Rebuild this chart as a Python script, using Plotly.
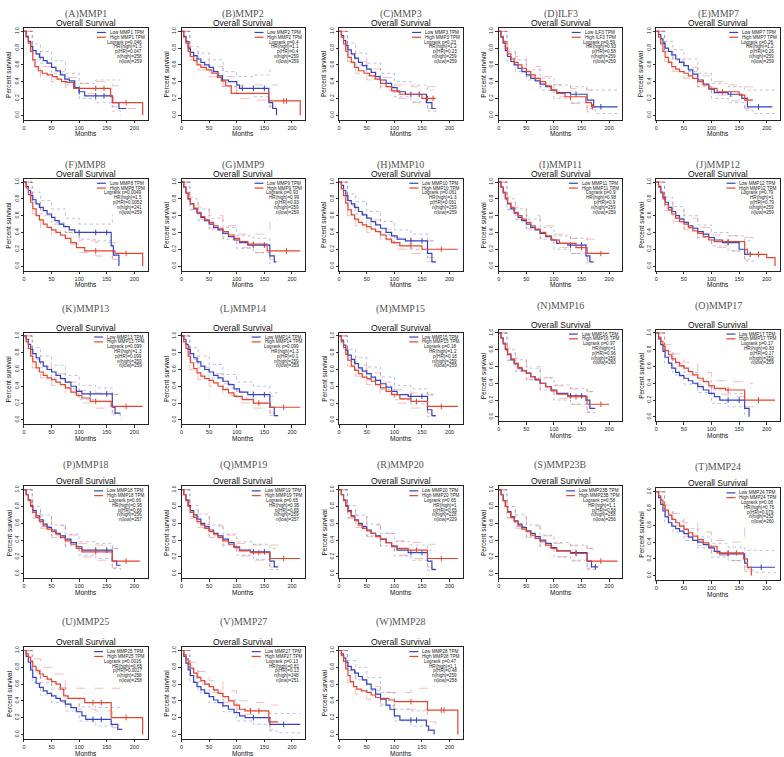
import plotly.graph_objects as go

W, H = 784, 757

LABELS = list("ABCDEFGHIJKLMNOPQRSTUVW")
GENES = ["MMP1", "MMP2", "MMP3", "ILF3", "MMP7", "MMP8", "MMP9", "MMP10", "MMP11", "MMP12",
         "MMP13", "MMP14", "MMP15", "MMP16", "MMP17", "MMP18", "MMP19", "MMP20", "MMP23B", "MMP24",
         "MMP25", "MMP27", "MMP28"]
LOGRANK_P = ["0.046", "0.4", "0.23", "0.59", "0.26", "0.0049", "0.93", "0.061", "0.9", "0.79",
             "0.099", "0.099", "0.18", "0.97", "0.17", "0.66", "0.65", "0.65", "0.58", "0.08",
             "0.0016", "0.13", "0.47"]
HR_HIGH = ["1.3", "1.1", "1.2", "0.93", "1.2", "1.5", "0.99", "1.3", "0.98", "1",
           "1.3", "1.3", "1.2", "1", "0.83", "0.95", "0.95", "1", "1.1", "0.76",
           "0.65", "0.81", "1.1"]
P_HR = ["0.047", "0.4", "0.23", "0.58", "0.26", "0.0052", "0.93", "0.061", "0.9", "0.79",
        "0.099", "0.1", "0.18", "0.96", "0.17", "0.66", "0.65", "0.65", "0.58", "0.079",
        "0.0017", "0.13", "0.48"]
N_HIGH = [258, 259, 259, 259, 259, 241, 259, 259, 259, 259, 259, 259, 259, 259, 259, 256, 259, 228,
          258, 252, 258, 248, 259]
N_LOW = [259, 259, 259, 259, 259, 259, 259, 259, 259, 259, 259, 259, 259, 260, 259, 257, 257, 229,
         256, 260, 258, 251, 258]

X_TICKS = [0, 50, 100, 150, 200]
Y_TICKS = [0, 0.2, 0.4, 0.6, 0.8, 1.0]
Y_TICKTEXT = ["0.0", "0.2", "0.4", "0.6", "0.8", "1.0"]

# time grid for the confidence-band lines (months)
TC = [0, 15, 30, 50, 75, 100, 130, 160, 175, 215]

# ---- survival curves: [months, survival] steps ----
A_lo = [[0,1],[4,.94],[8,.88],[12,.82],[16,.77],[22,.73],[28,.69],[35,.65],[42,.62],[50,.57],[58,.53],[66,.48],[74,.43],[82,.41],[92,.33],[100,.28],[110,.23],[160,.15],[172,.08],[185,.08]]
A_hi = [[0,1],[4,.93],[8,.86],[12,.76],[16,.66],[20,.58],[26,.53],[33,.5],[42,.48],[52,.46],[60,.43],[68,.4],[78,.39],[90,.32],[157,.22],[161,.15],[215,.15],[215,0]]
A_lo_up = [1,.85,.76,.65,.5,.38,.42,.42,.42,None]
A_lo_dn = [1,.73,.62,.5,.36,.2,.15,.05,0,None]
A_hi_up = [1,.78,.58,.52,.45,.38,.4,.35,.35,None]
A_hi_dn = [1,.66,.46,.4,.33,.26,.24,.1,.08,.05]

B_lo = [[0,1],[4,.94],[8,.88],[12,.8],[16,.75],[22,.71],[28,.67],[35,.63],[42,.6],[50,.57],[58,.52],[66,.47],[74,.42],[85,.4],[100,.36],[105,.32],[158,.15],[165,.08],[172,.08],[172,0]]
B_hi = [[0,1],[4,.93],[8,.86],[12,.76],[16,.7],[22,.65],[28,.6],[35,.57],[45,.54],[55,.5],[65,.45],[72,.41],[80,.35],[90,.26],[158,.17],[215,.17],[215,0]]
B_lo_up = [1,.82,.74,.66,.52,.46,.48,.55,None,None]
B_lo_dn = [1,.7,.6,.5,.34,.26,.22,.05,None,None]
B_hi_up = [1,.78,.66,.58,.46,.36,.36,.36,.36,None]
B_hi_dn = [1,.66,.54,.46,.34,.2,.18,.1,.05,None]

C_lo = [[0,1],[4,.95],[8,.89],[12,.83],[16,.78],[22,.73],[28,.68],[35,.63],[42,.59],[50,.55],[58,.51],[66,.46],[74,.42],[85,.38],[95,.33],[105,.28],[120,.25],[158,.15],[168,.08],[175,.08]]
C_hi = [[0,1],[4,.93],[8,.85],[12,.76],[16,.69],[22,.63],[28,.57],[35,.53],[45,.5],[55,.47],[65,.43],[75,.38],[85,.34],[95,.29],[110,.25],[150,.2],[175,.2]]
C_lo_up = [1,.86,.74,.62,.5,.4,.36,.3,.3,None]
C_lo_dn = [1,.72,.6,.48,.34,.22,.16,.05,0,None]
C_hi_up = [1,.76,.64,.55,.45,.36,.34,.34,.34,None]
C_hi_dn = [1,.64,.5,.42,.3,.2,.15,.08,.05,None]

D_lo = [[0,1],[4,.93],[8,.86],[12,.77],[16,.7],[22,.64],[28,.6],[35,.56],[42,.52],[50,.48],[58,.44],[66,.41],[75,.37],[85,.34],[95,.3],[105,.27],[130,.25],[160,.18],[172,.1],[215,.1]]
D_hi = [[0,1],[4,.94],[8,.88],[12,.8],[16,.73],[22,.67],[28,.63],[35,.6],[42,.56],[50,.52],[58,.48],[66,.44],[75,.4],[85,.35],[95,.3],[105,.26],[120,.22],[158,.15],[168,.1],[175,.1]]
D_lo_up = [1,.76,.66,.54,.44,.36,.34,.3,.3,.3]
D_lo_dn = [1,.64,.52,.42,.3,.2,.15,.08,.02,0]
D_hi_up = [1,.8,.7,.58,.46,.36,.32,.3,.3,None]
D_hi_dn = [1,.68,.56,.46,.34,.22,.14,.04,0,None]

E_lo = [[0,1],[4,.96],[8,.91],[12,.86],[16,.8],[22,.76],[28,.72],[35,.67],[42,.63],[50,.59],[58,.54],[66,.49],[75,.42],[85,.37],[95,.31],[105,.27],[130,.25],[155,.2],[165,.1],[210,.1]]
E_hi = [[0,1],[4,.93],[8,.85],[12,.76],[16,.69],[22,.63],[28,.58],[35,.55],[42,.52],[50,.5],[58,.47],[66,.44],[75,.4],[85,.36],[95,.32],[110,.28],[150,.24],[160,.18],[175,.18]]
E_lo_up = [1,.88,.78,.67,.5,.38,.34,.3,.3,.3]
E_lo_dn = [1,.76,.66,.52,.34,.2,.15,.06,.02,0]
E_hi_up = [1,.76,.64,.57,.47,.4,.36,.34,.34,None]
E_hi_dn = [1,.64,.52,.44,.34,.24,.17,.08,.05,None]

F_lo = [[0,1],[4,.95],[8,.9],[12,.84],[16,.79],[22,.74],[28,.7],[35,.66],[42,.62],[50,.58],[56,.54],[64,.5],[72,.47],[82,.43],[92,.4],[158,.24],[162,.13],[172,.13],[172,0]]
F_hi = [[0,1],[4,.93],[8,.85],[12,.76],[16,.68],[22,.6],[28,.55],[35,.5],[42,.46],[50,.43],[58,.4],[66,.37],[75,.33],[85,.28],[95,.22],[110,.18],[165,.15],[215,.15],[215,0]]
F_lo_up = [1,.88,.78,.68,.57,.5,.5,.62,None,None]
F_lo_dn = [1,.76,.62,.52,.4,.32,.3,.05,None,None]
F_hi_up = [1,.76,.6,.5,.4,.3,.28,.28,.28,None]
F_hi_dn = [1,.62,.46,.36,.26,.16,.12,.08,.05,None]

G_lo = [[0,1],[4,.94],[8,.87],[12,.8],[16,.74],[22,.68],[28,.63],[35,.58],[42,.54],[50,.5],[58,.46],[66,.43],[75,.39],[85,.35],[95,.31],[105,.28],[120,.25],[160,.12],[168,.05],[172,.05]]
G_hi = [[0,1],[4,.94],[8,.87],[12,.8],[16,.74],[22,.69],[28,.64],[35,.59],[42,.55],[50,.52],[58,.48],[66,.45],[75,.41],[85,.37],[95,.33],[105,.29],[120,.26],[155,.18],[215,.18]]
G_lo_up = [1,.8,.68,.57,.46,.36,.33,.25,None,None]
G_lo_dn = [1,.67,.54,.43,.32,.21,.16,.02,None,None]
G_hi_up = [1,.82,.7,.6,.48,.38,.38,.55,.55,None]
G_hi_dn = [1,.68,.56,.45,.33,.22,.16,.08,.06,None]

H_lo = [[0,1],[4,.96],[8,.9],[12,.84],[16,.78],[22,.74],[28,.7],[35,.65],[42,.61],[50,.57],[58,.53],[66,.49],[75,.45],[85,.4],[95,.36],[105,.32],[120,.3],[160,.15],[168,.05],[175,.05]]
H_hi = [[0,1],[4,.92],[8,.84],[12,.75],[16,.67],[22,.61],[28,.56],[35,.52],[42,.49],[50,.47],[58,.44],[66,.41],[75,.37],[85,.32],[95,.28],[110,.24],[150,.2],[215,.2]]
H_lo_up = [1,.86,.77,.65,.53,.43,.38,.3,.3,None]
H_lo_dn = [1,.72,.62,.5,.37,.25,.2,.05,0,None]
H_hi_up = [1,.74,.62,.55,.44,.34,.3,.3,.3,None]
H_hi_dn = [1,.6,.48,.4,.3,.2,.15,.1,.05,None]

I_lo = [[0,1],[4,.94],[8,.87],[12,.8],[16,.74],[22,.68],[28,.63],[35,.58],[42,.54],[50,.5],[58,.46],[66,.43],[75,.39],[85,.35],[95,.31],[105,.27],[125,.25],[158,.12],[165,.05],[172,.05]]
I_hi = [[0,1],[4,.94],[8,.88],[12,.81],[16,.75],[22,.7],[28,.64],[35,.6],[42,.56],[50,.52],[58,.48],[66,.44],[75,.4],[85,.36],[95,.31],[110,.27],[140,.22],[160,.15],[200,.15]]
I_lo_up = [1,.8,.68,.56,.46,.36,.33,.25,None,None]
I_lo_dn = [1,.67,.55,.43,.32,.2,.15,.02,None,None]
I_hi_up = [1,.82,.7,.6,.48,.38,.33,.32,.32,None]
I_hi_dn = [1,.68,.56,.45,.33,.22,.15,.06,.04,None]

J_lo = [[0,1],[4,.95],[8,.88],[12,.82],[16,.76],[22,.7],[28,.65],[35,.6],[42,.56],[50,.52],[58,.48],[66,.45],[75,.41],[85,.38],[95,.34],[105,.31],[120,.28],[150,.2],[160,.14],[175,.14]]
J_hi = [[0,1],[4,.94],[8,.87],[12,.8],[16,.73],[22,.67],[28,.62],[35,.57],[42,.53],[50,.5],[58,.46],[66,.42],[75,.39],[85,.35],[95,.31],[105,.29],[160,.2],[165,.14],[200,.1],[215,.1],[215,0]]
J_lo_up = [1,.82,.71,.6,.49,.4,.36,.3,.3,None]
J_lo_dn = [1,.69,.57,.45,.34,.24,.18,.06,.05,None]
J_hi_up = [1,.8,.67,.57,.46,.37,.36,.34,.3,None]
J_hi_dn = [1,.66,.53,.43,.32,.22,.18,.08,.04,None]

K_lo = [[0,1],[4,.96],[8,.9],[12,.84],[16,.79],[22,.74],[28,.69],[35,.64],[42,.6],[50,.57],[58,.53],[66,.49],[75,.45],[85,.4],[95,.34],[105,.31],[160,.15],[165,.08],[175,.08]]
K_hi = [[0,1],[4,.93],[8,.85],[12,.76],[16,.69],[22,.62],[28,.57],[35,.53],[42,.5],[50,.48],[58,.45],[66,.42],[75,.38],[85,.33],[95,.29],[105,.26],[120,.22],[158,.16],[215,.16]]
K_lo_up = [1,.86,.76,.65,.53,.41,.38,.3,.3,None]
K_lo_dn = [1,.72,.62,.5,.37,.24,.22,.06,0,None]
K_hi_up = [1,.76,.64,.55,.45,.35,.32,.3,.3,None]
K_hi_dn = [1,.62,.5,.41,.31,.2,.14,.08,.05,None]

L_lo = [[0,1],[4,.96],[8,.9],[12,.84],[16,.79],[22,.74],[28,.69],[35,.64],[42,.6],[50,.57],[58,.53],[66,.5],[75,.46],[85,.42],[95,.37],[105,.33],[120,.3],[160,.15],[168,.05],[175,.05]]
L_hi = [[0,1],[4,.93],[8,.85],[12,.76],[16,.68],[22,.61],[28,.56],[35,.52],[42,.49],[50,.47],[58,.44],[66,.4],[75,.36],[85,.32],[95,.28],[110,.24],[130,.2],[160,.15],[215,.15]]
L_lo_up = [1,.86,.76,.66,.54,.45,.4,.32,.3,None]
L_lo_dn = [1,.72,.62,.5,.38,.26,.2,.05,0,None]
L_hi_up = [1,.76,.63,.55,.43,.34,.3,.28,.28,None]
L_hi_dn = [1,.6,.48,.4,.29,.2,.14,.08,.05,None]

M_lo = [[0,1],[4,.95],[8,.89],[12,.83],[16,.77],[22,.72],[28,.67],[35,.62],[42,.58],[50,.55],[58,.51],[66,.47],[75,.43],[85,.39],[95,.34],[105,.3],[125,.28],[160,.12],[168,.05],[175,.05]]
M_hi = [[0,1],[4,.93],[8,.86],[12,.78],[16,.71],[22,.64],[28,.59],[35,.55],[42,.51],[50,.49],[58,.46],[66,.42],[75,.38],[85,.34],[95,.3],[110,.25],[130,.22],[160,.16],[215,.16]]
M_lo_up = [1,.84,.74,.63,.51,.41,.37,.3,.3,None]
M_lo_dn = [1,.7,.6,.48,.36,.24,.19,.04,0,None]
M_hi_up = [1,.78,.65,.56,.45,.36,.32,.3,.3,None]
M_hi_dn = [1,.64,.52,.42,.31,.2,.14,.08,.05,None]

N_lo = [[0,1],[4,.94],[8,.87],[12,.8],[16,.74],[22,.68],[28,.63],[35,.58],[42,.55],[50,.52],[58,.48],[66,.44],[75,.4],[85,.36],[95,.32],[105,.28],[125,.25],[158,.2],[165,.1],[175,.1]]
N_hi = [[0,1],[4,.94],[8,.88],[12,.81],[16,.75],[22,.69],[28,.64],[35,.59],[42,.55],[50,.52],[58,.48],[66,.45],[75,.4],[85,.36],[95,.31],[105,.27],[125,.24],[160,.15],[200,.15]]
N_lo_up = [1,.8,.68,.58,.46,.38,.34,.3,.3,None]
N_lo_dn = [1,.67,.54,.44,.32,.2,.15,.05,0,None]
N_hi_up = [1,.82,.7,.6,.47,.37,.33,.3,.3,None]
N_hi_dn = [1,.68,.56,.45,.33,.22,.15,.06,.04,None]

O_lo = [[0,1],[4,.93],[8,.86],[12,.78],[16,.71],[22,.64],[28,.58],[35,.53],[42,.49],[50,.46],[58,.43],[66,.4],[75,.36],[85,.32],[95,.28],[105,.24],[115,.2],[160,.1],[168,.1],[168,0]]
O_hi = [[0,1],[4,.95],[8,.9],[12,.84],[16,.79],[22,.74],[28,.69],[35,.65],[42,.61],[50,.58],[58,.54],[66,.5],[75,.46],[85,.42],[95,.37],[105,.34],[125,.32],[160,.2],[215,.2]]
O_lo_up = [1,.78,.64,.53,.43,.32,.28,.22,None,None]
O_lo_dn = [1,.64,.5,.39,.29,.16,.12,.02,None,None]
O_hi_up = [1,.86,.75,.65,.53,.43,.42,.4,.4,None]
O_hi_dn = [1,.72,.6,.5,.38,.27,.24,.12,.08,None]

P_lo = [[0,1],[4,.94],[8,.88],[12,.81],[16,.75],[22,.69],[28,.64],[35,.59],[42,.55],[50,.52],[58,.48],[66,.45],[75,.41],[85,.37],[95,.32],[105,.28],[160,.15],[168,.1],[175,.1]]
P_hi = [[0,1],[4,.94],[8,.87],[12,.8],[16,.73],[22,.67],[28,.62],[35,.57],[42,.53],[50,.5],[58,.47],[66,.43],[75,.39],[85,.35],[95,.3],[105,.26],[160,.15],[210,.15]]
P_lo_up = [1,.8,.7,.58,.47,.38,.36,.3,.3,None]
P_lo_dn = [1,.68,.56,.45,.33,.22,.18,.06,.02,None]
P_hi_up = [1,.8,.68,.57,.46,.36,.34,.3,.3,None]
P_hi_dn = [1,.66,.54,.43,.32,.2,.16,.07,.04,None]

Q_lo = [[0,1],[4,.94],[8,.88],[12,.81],[16,.75],[22,.7],[28,.65],[35,.6],[42,.56],[50,.52],[58,.48],[66,.45],[75,.41],[85,.37],[95,.32],[105,.28],[125,.26],[160,.15],[168,.08],[175,.08]]
Q_hi = [[0,1],[4,.94],[8,.87],[12,.8],[16,.73],[22,.67],[28,.62],[35,.58],[42,.54],[50,.5],[58,.47],[66,.43],[75,.39],[85,.35],[95,.31],[105,.27],[125,.25],[160,.18],[215,.18]]
Q_lo_up = [1,.81,.71,.58,.47,.38,.35,.3,.3,None]
Q_lo_dn = [1,.68,.58,.45,.34,.22,.17,.05,0,None]
Q_hi_up = [1,.8,.68,.57,.46,.36,.34,.34,.34,None]
Q_hi_dn = [1,.66,.55,.43,.32,.21,.16,.08,.05,None]

R_lo = [[0,1],[4,.94],[8,.88],[12,.81],[16,.75],[22,.69],[28,.64],[35,.6],[42,.56],[50,.52],[58,.48],[66,.45],[75,.41],[85,.37],[95,.32],[105,.28],[125,.25],[160,.15],[168,.05],[175,.05]]
R_hi = [[0,1],[4,.94],[8,.87],[12,.8],[16,.74],[22,.68],[28,.63],[35,.58],[42,.54],[50,.51],[58,.48],[66,.44],[75,.41],[85,.37],[95,.33],[105,.3],[125,.28],[160,.18],[215,.18]]
R_lo_up = [1,.81,.7,.59,.48,.38,.34,.28,.28,None]
R_lo_dn = [1,.67,.57,.45,.33,.21,.16,.04,0,None]
R_hi_up = [1,.8,.69,.58,.48,.39,.37,.35,.35,None]
R_hi_dn = [1,.66,.55,.44,.33,.22,.18,.08,.05,None]

S_lo = [[0,1],[4,.94],[8,.87],[12,.8],[16,.74],[22,.68],[28,.63],[35,.59],[42,.55],[50,.51],[58,.48],[66,.44],[75,.4],[85,.36],[95,.31],[105,.27],[130,.25],[160,.15],[168,.08],[180,.08]]
S_hi = [[0,1],[4,.94],[8,.87],[12,.8],[16,.73],[22,.67],[28,.62],[35,.57],[42,.53],[50,.5],[58,.46],[66,.42],[75,.38],[85,.34],[95,.3],[105,.27],[130,.24],[160,.15],[215,.15]]
S_lo_up = [1,.8,.7,.58,.46,.37,.34,.3,.3,None]
S_lo_dn = [1,.67,.56,.44,.33,.2,.16,.05,0,None]
S_hi_up = [1,.8,.68,.57,.45,.36,.33,.3,.3,None]
S_hi_dn = [1,.66,.54,.43,.31,.2,.15,.06,.04,None]

T_lo = [[0,1],[4,.93],[8,.85],[12,.77],[16,.7],[22,.63],[28,.59],[35,.56],[42,.53],[50,.5],[58,.46],[66,.42],[75,.4],[85,.37],[95,.33],[105,.29],[115,.26],[160,.15],[165,.1],[215,.1]]
T_hi = [[0,1],[4,.95],[8,.9],[12,.84],[16,.78],[22,.72],[28,.67],[35,.63],[42,.59],[50,.55],[58,.51],[66,.47],[75,.43],[85,.39],[95,.35],[110,.27],[158,.2],[165,.1],[172,.1],[172,0]]
T_lo_up = [1,.76,.65,.56,.46,.38,.34,.3,.3,.3]
T_lo_dn = [1,.64,.52,.42,.33,.22,.18,.08,.04,0]
T_hi_up = [1,.84,.74,.63,.52,.42,.4,.58,.58,None]
T_hi_dn = [1,.72,.6,.47,.36,.24,.18,.05,0,None]

U_lo = [[0,1],[4,.93],[8,.86],[12,.77],[16,.68],[22,.61],[28,.56],[35,.52],[42,.49],[50,.46],[58,.43],[66,.4],[75,.36],[85,.32],[95,.27],[105,.22],[112,.18],[158,.12],[170,.06],[178,.06]]
U_hi = [[0,1],[4,.96],[8,.92],[12,.87],[16,.81],[22,.76],[28,.72],[35,.69],[42,.66],[50,.63],[58,.6],[66,.54],[72,.46],[80,.43],[110,.38],[158,.2],[215,.2],[215,0]]
U_lo_up = [1,.78,.62,.54,.43,.33,.32,.32,.32,None]
U_lo_dn = [1,.62,.47,.38,.28,.16,.1,.04,None,None]
U_hi_up = [1,.9,.8,.72,.55,.55,.55,.55,.55,None]
U_hi_dn = [1,.78,.65,.56,.36,.3,.28,.08,.05,None]

V_lo = [[0,1],[4,.93],[8,.85],[12,.77],[16,.7],[22,.62],[28,.57],[35,.53],[42,.49],[50,.45],[58,.41],[66,.38],[75,.34],[85,.3],[95,.26],[105,.22],[115,.2],[160,.12],[215,.12]]
V_hi = [[0,1],[4,.95],[8,.9],[12,.84],[16,.79],[22,.73],[28,.68],[35,.64],[42,.6],[50,.57],[58,.53],[66,.49],[75,.45],[85,.4],[95,.35],[105,.3],[115,.28],[158,.15],[175,.15]]
V_lo_up = [1,.77,.63,.52,.41,.3,.28,.25,.25,.25]
V_lo_dn = [1,.63,.5,.38,.27,.16,.12,.04,.02,0]
V_hi_up = [1,.86,.75,.64,.52,.4,.38,.35,.35,None]
V_hi_dn = [1,.73,.6,.5,.38,.24,.2,.06,.04,None]

W_lo = [[0,1],[4,.96],[8,.91],[12,.86],[16,.81],[22,.77],[28,.73],[35,.69],[42,.65],[50,.6],[58,.54],[66,.48],[75,.42],[85,.35],[92,.3],[100,.22],[110,.17],[158,.1],[162,.05],[172,.05],[172,0]]
W_hi = [[0,1],[4,.94],[8,.87],[12,.78],[16,.7],[20,.63],[26,.57],[32,.54],[40,.52],[50,.5],[58,.47],[66,.44],[75,.43],[90,.41],[100,.39],[160,.29],[215,.29],[215,0]]
W_lo_up = [1,.88,.8,.68,.5,.3,.28,.28,None,None]
W_lo_dn = [1,.76,.65,.52,.34,.16,.1,.02,None,None]
W_hi_up = [1,.8,.64,.57,.5,.5,.55,.55,.55,None]
W_hi_dn = [1,.62,.48,.42,.36,.3,.3,.15,.12,None]

# censoring times (months) marked with "+" on each curve, panels A..W
CENSOR_LOW = [[100, 130, 145], [110, 130, 150], [130, 145], [140, 185], [135, 185],
              [100, 130, 150], [130, 150], [130, 150], [130, 150], [130, 170],
              [120, 150], [130, 150], [130, 150], [130, 150], [130, 150],
              [130, 150], [130, 150], [130, 150], [140, 175], [130, 190],
              [125, 140], [130, 185], [130, 140]]
CENSOR_HIGH = [[130, 145, 185], [185, 190], [160, 170], [130, 170], [120, 165],
               [130, 185], [130, 190], [130, 185], [150, 185], [130, 185],
               [130, 185], [140, 185], [140, 185], [140, 185], [130, 185],
               [130, 185], [140, 185], [140, 185], [140, 185], [130, 145],
               [125, 140, 185], [125, 140], [130, 185, 190]]

LOW = [A_lo, B_lo, C_lo, D_lo, E_lo, F_lo, G_lo, H_lo, I_lo, J_lo, K_lo, L_lo, M_lo, N_lo, O_lo,
       P_lo, Q_lo, R_lo, S_lo, T_lo, U_lo, V_lo, W_lo]
HIGH = [A_hi, B_hi, C_hi, D_hi, E_hi, F_hi, G_hi, H_hi, I_hi, J_hi, K_hi, L_hi, M_hi, N_hi, O_hi,
        P_hi, Q_hi, R_hi, S_hi, T_hi, U_hi, V_hi, W_hi]
LOW_UP = [A_lo_up, B_lo_up, C_lo_up, D_lo_up, E_lo_up, F_lo_up, G_lo_up, H_lo_up, I_lo_up, J_lo_up,
          K_lo_up, L_lo_up, M_lo_up, N_lo_up, O_lo_up, P_lo_up, Q_lo_up, R_lo_up, S_lo_up, T_lo_up,
          U_lo_up, V_lo_up, W_lo_up]
LOW_DN = [A_lo_dn, B_lo_dn, C_lo_dn, D_lo_dn, E_lo_dn, F_lo_dn, G_lo_dn, H_lo_dn, I_lo_dn, J_lo_dn,
          K_lo_dn, L_lo_dn, M_lo_dn, N_lo_dn, O_lo_dn, P_lo_dn, Q_lo_dn, R_lo_dn, S_lo_dn, T_lo_dn,
          U_lo_dn, V_lo_dn, W_lo_dn]
HIGH_UP = [A_hi_up, B_hi_up, C_hi_up, D_hi_up, E_hi_up, F_hi_up, G_hi_up, H_hi_up, I_hi_up, J_hi_up,
           K_hi_up, L_hi_up, M_hi_up, N_hi_up, O_hi_up, P_hi_up, Q_hi_up, R_hi_up, S_hi_up, T_hi_up,
           U_hi_up, V_hi_up, W_hi_up]
HIGH_DN = [A_hi_dn, B_hi_dn, C_hi_dn, D_hi_dn, E_hi_dn, F_hi_dn, G_hi_dn, H_hi_dn, I_hi_dn, J_hi_dn,
           K_hi_dn, L_hi_dn, M_hi_dn, N_hi_dn, O_hi_dn, P_hi_dn, Q_hi_dn, R_hi_dn, S_hi_dn, T_hi_dn,
           U_hi_dn, V_hi_dn, W_hi_dn]

# ---- layout (pixels) ----
COL_X0 = [22, 180, 338, 498, 656]
BOX_W = 124
ROW_Y0 = [27, 178, 332, 486, 647]
BOX_H = 92
ROW_TITLE_Y = [13, 164, 308, 465, 622]
PANEL_DY = [0] * 23
PANEL_DY[13] = -3
PANEL_DY[14] = -3
PANEL_DY[19] = 2

BLUE = "#3143c6"
RED = "#e8432c"
BLUE_CI = "rgba(70,90,215,0.55)"
RED_CI = "rgba(235,85,60,0.55)"
SANS = "Liberation Sans, Arial, sans-serif"
SERIF = "Liberation Serif, Times New Roman, serif"


def fx(x):
    return x / W


def fy(y):
    return 1 - y / H


def step_value(pts, t):
    v = None
    for tt, s in pts:
        if tt <= t:
            v = s
    return v


def label(x, y, text, size, family=SANS, color="#111", xanchor="center", angle=0):
    return dict(x=fx(x), y=fy(y), xref="paper", yref="paper", text=text, showarrow=False,
                xanchor=xanchor, yanchor="middle", textangle=angle,
                font=dict(family=family, size=size, color=color))


fig = go.Figure()
layout = dict(width=W, height=H, margin=dict(l=0, r=0, t=0, b=0),
              paper_bgcolor="white", plot_bgcolor="white", showlegend=False)
annotations = []
shapes = []

for i in range(23):
    r, c = divmod(i, 5)
    x0 = COL_X0[c]
    x1 = x0 + BOX_W
    y0 = ROW_Y0[r] + PANEL_DY[i]
    y1 = y0 + BOX_H
    sfx = "" if i == 0 else str(i + 1)
    xref, yref = "x" + sfx, "y" + sfx
    layout["xaxis" + sfx] = dict(
        domain=[fx(x0), fx(x1)], anchor=yref, range=[0, 224],
        tickvals=X_TICKS, ticks="outside", ticklen=2.5, tickwidth=0.6, tickcolor="#333",
        tickfont=dict(size=5.5, family=SANS, color="#222"),
        showline=True, mirror=True, linecolor="#222", linewidth=0.8,
        showgrid=False, zeroline=False, fixedrange=True)
    layout["yaxis" + sfx] = dict(
        domain=[fy(y1), fy(y0)], anchor=xref, range=[-0.055, 1.04],
        tickvals=Y_TICKS, ticktext=Y_TICKTEXT, tickangle=-90, ticks="outside", ticklen=2.5,
        tickwidth=0.6, tickcolor="#333", tickfont=dict(size=5, family=SANS, color="#222"),
        showline=True, mirror=True, linecolor="#222", linewidth=0.8,
        showgrid=False, zeroline=False, fixedrange=True)

    # confidence lines
    for vals, col, dash in ((LOW_UP[i], BLUE_CI, "dot"), (LOW_DN[i], BLUE_CI, "dot"),
                            (HIGH_UP[i], RED_CI, "dash"), (HIGH_DN[i], RED_CI, "dash")):
        fig.add_trace(go.Scatter(x=TC, y=vals, mode="lines", xaxis=xref, yaxis=yref,
                                 line=dict(color=col, width=0.7, dash=dash, shape="hv"),
                                 connectgaps=False, hoverinfo="skip"))
    # survival curves with censor marks
    for pts, cens, col in ((LOW[i], CENSOR_LOW[i], BLUE), (HIGH[i], CENSOR_HIGH[i], RED)):
        fig.add_trace(go.Scatter(x=[p[0] for p in pts], y=[p[1] for p in pts], mode="lines",
                                 xaxis=xref, yaxis=yref,
                                 line=dict(color=col, width=1.2, shape="hv")))
        ct = [t for t in cens if t <= pts[-1][0]]
        fig.add_trace(go.Scatter(x=ct, y=[step_value(pts, t) for t in ct], mode="markers",
                                 xaxis=xref, yaxis=yref,
                                 marker=dict(symbol="line-ns", size=4, color=col,
                                             line=dict(color=col, width=1))))

    cx = (x0 + x1) / 2
    annotations.append(label(cx, ROW_TITLE_Y[r] + PANEL_DY[i], "(%s)%s" % (LABELS[i], GENES[i]),
                             10, SERIF, "#555"))
    annotations.append(label(cx, y0 - 5, "Overall Survival", 8.5))
    annotations.append(label(cx, y1 + 14, "Months", 6.5))
    annotations.append(label(x0 - 15, (y0 + y1) / 2, "Percent survival", 6.5, angle=-90))

    # legend block
    fs = 4.6
    lh = 4.8
    xr = x1 - 4
    low_txt = "Low %s TPM" % GENES[i]
    high_txt = "High %s TPM" % GENES[i]
    tw = len(high_txt) * fs * 0.6
    tl = xr - tw
    ly = y0 + 4.5
    for k, (txt, col) in enumerate(((low_txt, BLUE), (high_txt, RED))):
        yy = ly + k * lh
        annotations.append(label(tl, yy, txt, fs, color="#222", xanchor="left"))
        shapes.append(dict(type="line", xref="paper", yref="paper", x0=fx(tl - 11), x1=fx(tl - 2),
                           y0=fy(yy), y1=fy(yy), line=dict(color=col, width=1.2)))
    stats = ["Logrank p=%s" % LOGRANK_P[i], "HR(high)=%s" % HR_HIGH[i], "p(HR)=%s" % P_HR[i],
             "n(high)=%d" % N_HIGH[i], "n(low)=%d" % N_LOW[i]]
    for k, txt in enumerate(stats):
        annotations.append(label(xr, ly + (k + 2) * lh, txt, fs, color="#222", xanchor="right"))

layout["annotations"] = annotations
layout["shapes"] = shapes
fig.update_layout(**layout)
fig.write_html("out.html", config={"displayModeBar": False},
               post_script="document.body.style.margin='0';document.body.style.padding='0';")
